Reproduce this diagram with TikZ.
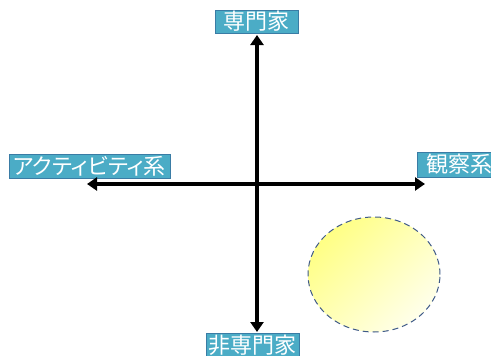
\documentclass[tikz,border=0pt]{standalone}
\usepackage{fontspec}
\newfontfamily\cjk[RawFeature=+palt]{Noto Sans CJK JP}
\usetikzlibrary{arrows.meta,shapes.geometric}
\definecolor{boxfill}{HTML}{4BACC6}
\definecolor{boxline}{HTML}{3A7CA5}
\definecolor{ellline}{HTML}{3F5A88}
\tikzset{
  lbl/.style={draw=boxline, line width=0.8pt, fill=boxfill, text=white,
    font=\cjk\fontsize{22}{24}\selectfont, inner sep=0pt, anchor=center},
  axisline/.style={line width=3.6pt, -{Triangle[length=10pt,width=13pt]}, black},
}
\begin{document}
\begin{tikzpicture}[x=1pt,y=-1pt]
\useasboundingbox (0,0) rectangle (491,356);
\node[lbl, minimum width=83pt, minimum height=23pt] (top) at (256.5,21.5) {専門家};
\node[lbl, minimum width=161pt, minimum height=24pt] (left) at (89.5,166) {アクティビティ系};
\node[lbl, minimum width=84pt, minimum height=25pt] (right) at (459,164.5) {観察系};
\node[lbl, minimum width=93pt, minimum height=24pt] (bottom) at (252.5,345) {非専門家};
\coordinate (c) at (257,184);
\coordinate (vt) at (257,35);
\coordinate (vb) at (257,332);
\coordinate (hl) at (87,184);
\coordinate (hr) at (425,184);
\draw[axisline] (c) -- (vt);
\draw[axisline] (c) -- (vb);
\draw[axisline] (c) -- (hl);
\draw[axisline] (c) -- (hr);
\node[ellipse, minimum width=132pt, minimum height=115pt, draw=ellline,
  dash pattern=on 6pt off 4pt, line width=1pt,
  shading=axis, top color=yellow!48, bottom color=yellow!8, shading angle=45] (ell) at (374,274.5) {};
\end{tikzpicture}
\end{document}
